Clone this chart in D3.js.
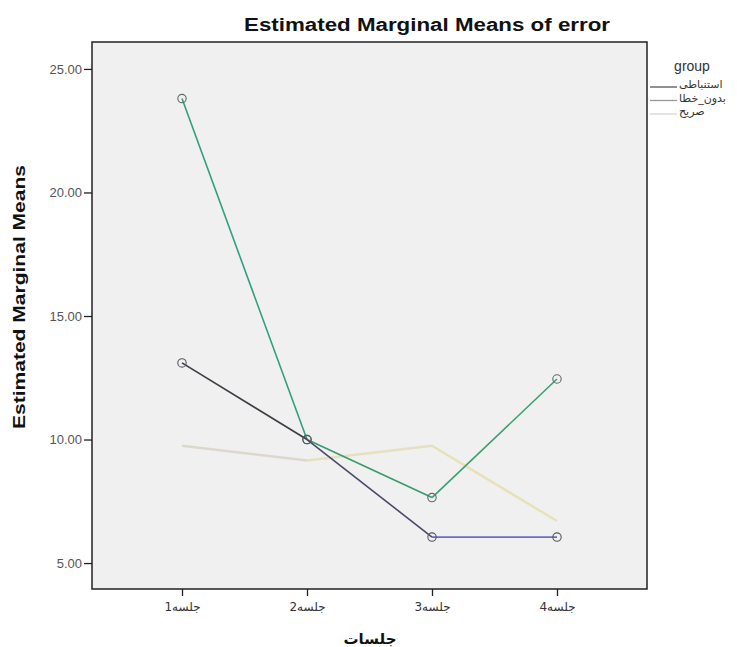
<!DOCTYPE html>
<html>
<head>
<meta charset="utf-8">
<script src="https://cdn.jsdelivr.net/npm/d3@7"></script>
<style>
  body { margin: 0; background: #fff; }
  svg { display: block; font-family: "Liberation Sans", Arial, sans-serif; }
</style>
</head>
<body>
<svg></svg>
<script>
// sessions on the x axis
const sessions = ["جلسه1", "جلسه2", "جلسه3", "جلسه4"];
const groups = ["استنباطی", "بدون_خطا", "صریح"];
// means per group
const estenbati = [13.1, 10.0, 6.05, 6.05];
const bedoonKhata = [23.8, 10.0, 7.65, 12.45];
const sarih = [9.75, 9.15, 9.75, 6.7];
const yTicks = [5, 10, 15, 20, 25];

const width = 737, height = 647;
const svg = d3.select("svg")
    .attr("width", width)
    .attr("height", height);

const plot = { left: 92, top: 42, right: 647, bottom: 589 };

const x = d3.scalePoint()
    .domain(sessions)
    .range([plot.left, plot.right])
    .padding(0.72);

const y = d3.scaleLinear()
    .domain([3.95, 26.09])
    .range([plot.bottom, plot.top]);

// plot background + frame
svg.append("rect")
    .attr("x", plot.left).attr("y", plot.top)
    .attr("width", plot.right - plot.left)
    .attr("height", plot.bottom - plot.top)
    .attr("fill", "#f0f0f0")
    .attr("stroke", "#222")
    .attr("stroke-width", 1.5);

// axes
const yAxis = svg.append("g")
    .attr("transform", `translate(${plot.left},0)`)
    .call(d3.axisLeft(y).tickValues(yTicks).tickFormat(d3.format(".2f")).tickSize(8).tickPadding(2));
yAxis.select(".domain").remove();
yAxis.selectAll("text").attr("font-size", 13).attr("fill", "#555")
    .attr("font-family", "'Liberation Sans', Arial, sans-serif");
yAxis.selectAll("line").attr("stroke", "#222").attr("stroke-width", 1.3);

const xAxis = svg.append("g")
    .attr("transform", `translate(0,${plot.bottom})`)
    .call(d3.axisBottom(x).tickSize(7).tickPadding(6));
xAxis.select(".domain").remove();
xAxis.selectAll("text").attr("font-size", 12).attr("fill", "#333")
    .attr("font-family", "'DejaVu Sans', Arial, sans-serif");
xAxis.selectAll("line").attr("stroke", "#222").attr("stroke-width", 1.3);

// series
const series = [
    { name: groups[0], values: estenbati, colors: ["#3c3c44", "#4a4a6a", "#6c6cc8"], marker: "#55555f" },
    { name: groups[1], values: bedoonKhata, colors: ["#2f9f80", "#3a9a6a", "#3aa070"], marker: "#5a6a66" },
    { name: groups[2], values: sarih, colors: ["#dcd8cc", "#e6dfc0", "#e8e0b8"], marker: null }
];

// draw faint line first so the others sit on top
[series[2], series[1], series[0]].forEach(s => {
    const pts = s.values.map((v, i) => [x(sessions[i]), y(v)]);
    for (let i = 0; i < pts.length - 1; i++) {
        svg.append("line")
            .attr("x1", pts[i][0]).attr("y1", pts[i][1])
            .attr("x2", pts[i + 1][0]).attr("y2", pts[i + 1][1])
            .attr("stroke", s.colors[i])
            .attr("stroke-width", s.marker ? 1.6 : 2.4);
    }
    if (s.marker) {
        svg.selectAll(null)
            .data(pts)
            .enter().append("circle")
            .attr("cx", d => d[0]).attr("cy", d => d[1])
            .attr("r", 4.2)
            .attr("fill", "none")
            .attr("stroke", s.marker)
            .attr("stroke-width", 1.1);
    }
});

// title
svg.append("text")
    .attr("x", 427).attr("y", 31)
    .attr("text-anchor", "middle")
    .attr("font-size", 18)
    .attr("font-weight", "bold")
    .attr("fill", "#111")
    .attr("textLength", 366)
    .attr("lengthAdjust", "spacingAndGlyphs")
    .text("Estimated Marginal Means of error");

// axis titles
svg.append("text")
    .attr("transform", `translate(25,297) rotate(-90)`)
    .attr("text-anchor", "middle")
    .attr("font-size", 17)
    .attr("font-weight", "bold")
    .attr("fill", "#111")
    .attr("textLength", 264)
    .attr("lengthAdjust", "spacingAndGlyphs")
    .text("Estimated Marginal Means");

svg.append("text")
    .attr("x", 370).attr("y", 644)
    .attr("text-anchor", "middle")
    .attr("font-size", 15)
    .attr("font-weight", "bold")
    .attr("font-family", "'DejaVu Sans', Arial, sans-serif")
    .attr("fill", "#111")
    .text("جلسات");

// legend
const legend = svg.append("g");
legend.append("text")
    .attr("x", 692).attr("y", 71)
    .attr("text-anchor", "middle")
    .attr("font-size", 14)
    .attr("fill", "#333")
    .text("group");

const legendColors = ["#555", "#999", "#d6d6d6"];
groups.forEach((g, i) => {
    const ly = 87 + i * 13.5;
    legend.append("line")
        .attr("x1", 650).attr("x2", 677)
        .attr("y1", ly).attr("y2", ly)
        .attr("stroke", legendColors[i])
        .attr("stroke-width", 1.3);
    legend.append("text")
        .attr("x", 679).attr("y", ly + 1)
        .attr("font-size", 11)
        .attr("fill", "#333")
        .attr("font-family", "'DejaVu Sans', Arial, sans-serif")
        .text(g);
});
</script>
</body>
</html>
